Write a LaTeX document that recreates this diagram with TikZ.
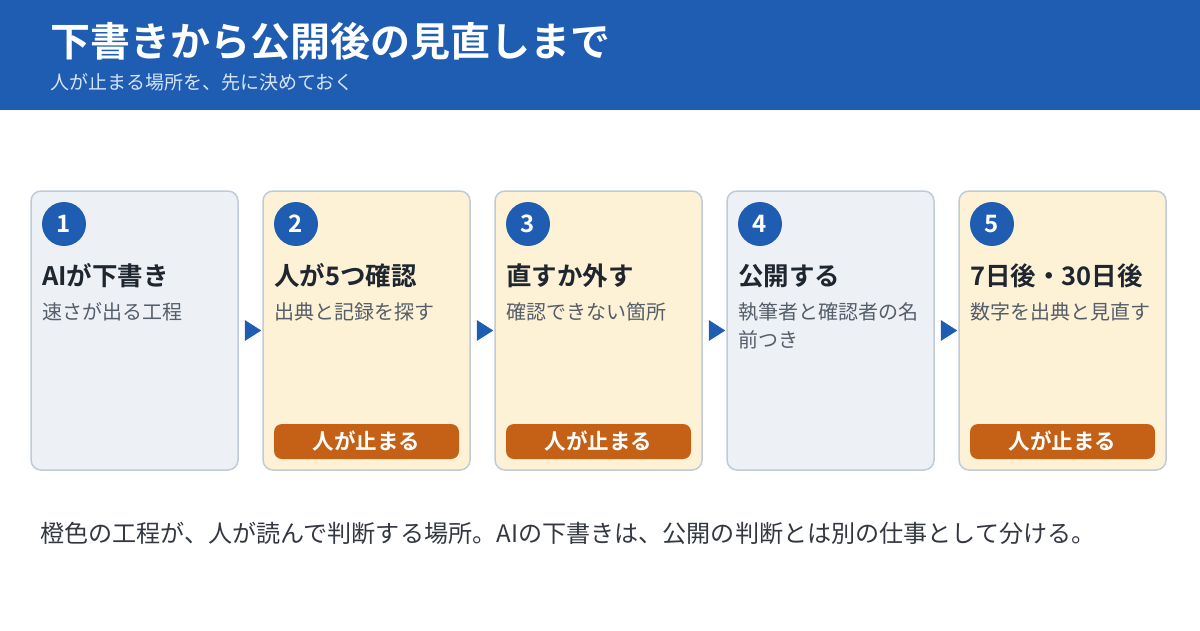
\documentclass[tikz,border=0pt]{standalone}
\usepackage{fontspec}
\setmainfont{Noto Sans CJK JP}[BoldFont={Noto Sans CJK JP Bold}]
\usetikzlibrary{positioning}
\definecolor{mainblue}{RGB}{30,93,178}
\definecolor{cardgray}{RGB}{237,241,245}
\definecolor{cardorange}{RGB}{254,242,214}
\definecolor{cardline}{RGB}{192,202,216}
\definecolor{badgecol}{RGB}{196,97,22}
\definecolor{titlecol}{RGB}{31,38,48}
\definecolor{notecol}{RGB}{85,94,106}
\definecolor{footcol}{RGB}{51,56,64}
\definecolor{subcol}{RGB}{214,228,247}

\begin{document}
\begin{tikzpicture}[x=1pt,y=-1pt,
    card/.style={draw=cardline, line width=1.5pt, rounded corners=10pt, minimum width=207pt, minimum height=279pt, inner sep=0pt},
    graycard/.style={card, fill=cardgray},
    orangecard/.style={card, fill=cardorange},
    numdot/.style={circle, fill=mainblue, minimum size=44pt, inner sep=0pt, text=white, font=\bfseries\fontsize{24}{24}\selectfont},
    steptitle/.style={anchor=west, inner sep=0pt, text=titlecol, font=\bfseries\fontsize{25.5}{28}\selectfont},
    stepnote/.style={anchor=west, inner sep=0pt, align=left, text=notecol, font=\fontsize{20}{28}\selectfont},
    stopbadge/.style={rounded corners=8pt, fill=badgecol, minimum width=185pt, minimum height=35pt, inner sep=0pt, text=white, font=\bfseries\fontsize{21.5}{22}\selectfont},
    flowtip/.style={fill=mainblue}]
    \useasboundingbox (0,0) rectangle (1200,630);
    % header band
    \fill [mainblue] (0,0) rectangle (1200,110);
    \node [anchor=west, inner sep=0pt, text=white, font=\bfseries\fontsize{40}{42}\selectfont] (head) at (50,41) {下書きから公開後の見直しまで};
    \node [anchor=west, inner sep=0pt, text=subcol, font=\fontsize{19}{22}\selectfont] (sub) at (50,82) {人が止まる場所を、先に決めておく};
    % cards
    \node [graycard] (c1) at (134.5,330.5) {};
    \node [orangecard] (c2) at (366.5,330.5) {};
    \node [orangecard] (c3) at (598.5,330.5) {};
    \node [graycard] (c4) at (830.5,330.5) {};
    \node [orangecard] (c5) at (1062.5,330.5) {};
    % step 1
    \node [numdot] (n1) at (64,224) {1};
    \node [steptitle] (t1) at (42,276) {AIが下書き};
    \node [stepnote] (d1) at (42,312) {速さが出る工程};
    % step 2
    \node [numdot] (n2) at (296,224) {2};
    \node [steptitle] (t2) at (274,276) {人が5つ確認};
    \node [stepnote] (d2) at (274,312) {出典と記録を探す};
    \node [stopbadge] (b2) at (366.5,441.5) {人が止まる};
    % step 3
    \node [numdot] (n3) at (528,224) {3};
    \node [steptitle] (t3) at (506,276) {直すか外す};
    \node [stepnote] (d3) at (506,312) {確認できない箇所};
    \node [stopbadge] (b3) at (598.5,441.5) {人が止まる};
    % step 4
    \node [numdot] (n4) at (760,224) {4};
    \node [steptitle] (t4) at (738,276) {公開する};
    \node [stepnote] (d4) at (738,326) {執筆者と確認者の名\\前つき};
    % step 5
    \node [numdot] (n5) at (992,224) {5};
    \node [steptitle] (t5) at (970,276) {7日後・30日後};
    \node [stepnote] (d5) at (970,312) {数字を出典と見直す};
    \node [stopbadge] (b5) at (1062.5,441.5) {人が止まる};
    % flow tips between cards
    \fill [flowtip] ([xshift=6pt]c1.east) ++(0,-10.5) -- ++(0,21) -- ([xshift=-1pt]c2.west) -- cycle;
    \fill [flowtip] ([xshift=6pt]c2.east) ++(0,-10.5) -- ++(0,21) -- ([xshift=-1pt]c3.west) -- cycle;
    \fill [flowtip] ([xshift=6pt]c3.east) ++(0,-10.5) -- ++(0,21) -- ([xshift=-1pt]c4.west) -- cycle;
    \fill [flowtip] ([xshift=6pt]c4.east) ++(0,-10.5) -- ++(0,21) -- ([xshift=-1pt]c5.west) -- cycle;
    % footer
    \node [anchor=west, inner sep=0pt, text=footcol, font=\fontsize{24.1}{28}\selectfont] (foot) at (40,533) {橙色の工程が、人が読んで判断する場所。AIの下書きは、公開の判断とは別の仕事として分ける。};
\end{tikzpicture}
\end{document}
